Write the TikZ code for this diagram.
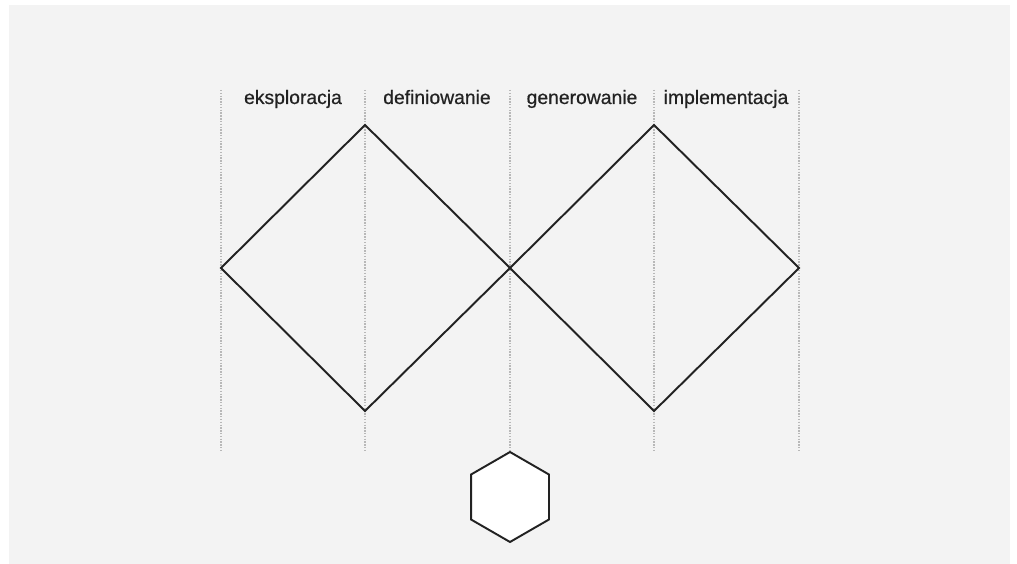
\documentclass[tikz,border=0pt]{standalone}
\usepackage{fontspec}
\setmainfont{Liberation Sans}
\newfontfamily\phasefont{Liberation Sans}[FakeBold=0.6]
\usetikzlibrary{shapes.geometric}

\definecolor{paper}{HTML}{F3F3F3}
\definecolor{ink}{HTML}{222222}
\definecolor{guide}{HTML}{B8B8B8}

\tikzset{
  phase/.style={font=\phasefont\fontsize{11}{13}\selectfont, text=ink, anchor=base},
  guideline/.style={draw=guide, line width=0.6pt, dash pattern=on 0.8pt off 0.8pt},
  diamondline/.style={draw=ink, line width=1.1pt, line join=miter},
}

\begin{document}
\begin{tikzpicture}[x=0.02cm, y=-0.02cm]
    \useasboundingbox (0,0) rectangle (1017,564);
    \fill[paper] (9,5) rectangle (1010,564);

    % column guides
    \foreach \gx/\gn in {221/a, 365/b, 510/c, 654/d, 799/e}
        \coordinate (top\gn) at (\gx,90);
    \coordinate (bota) at (221,450);
    \coordinate (botb) at (365,450);
    \coordinate (botd) at (654,450);
    \coordinate (bote) at (799,450);

    \node[draw=ink, fill=white, line width=1.1pt, regular polygon, regular polygon sides=6,
          shape border rotate=30, minimum size=1.8cm, inner sep=0pt] (hex) at (510,497) {};

    \draw[guideline] (topa) -- (bota);
    \draw[guideline] (topb) -- (botb);
    \draw[guideline] (topc) -- (hex.north);
    \draw[guideline] (topd) -- (botd);
    \draw[guideline] (tope) -- (bote);

    % diamonds
    \coordinate (left1) at (221,268);
    \coordinate (up1) at (365,125);
    \coordinate (mid) at (510,268);
    \coordinate (down1) at (365,411);
    \coordinate (up2) at (654,125);
    \coordinate (right2) at (799,268);
    \coordinate (down2) at (654,411);

    \draw[diamondline] (left1) -- (up1) -- (mid) -- (down1) -- cycle;
    \draw[diamondline] (mid) -- (up2) -- (right2) -- (down2) -- cycle;

    \node[phase] (explore) at (293,104) {eksploracja};
    \node[phase] (define) at (437,104) {definiowanie};
    \node[phase] (generate) at (582,104) {generowanie};
    \node[phase] (implement) at (726,104) {implementacja};
\end{tikzpicture}
\end{document}
